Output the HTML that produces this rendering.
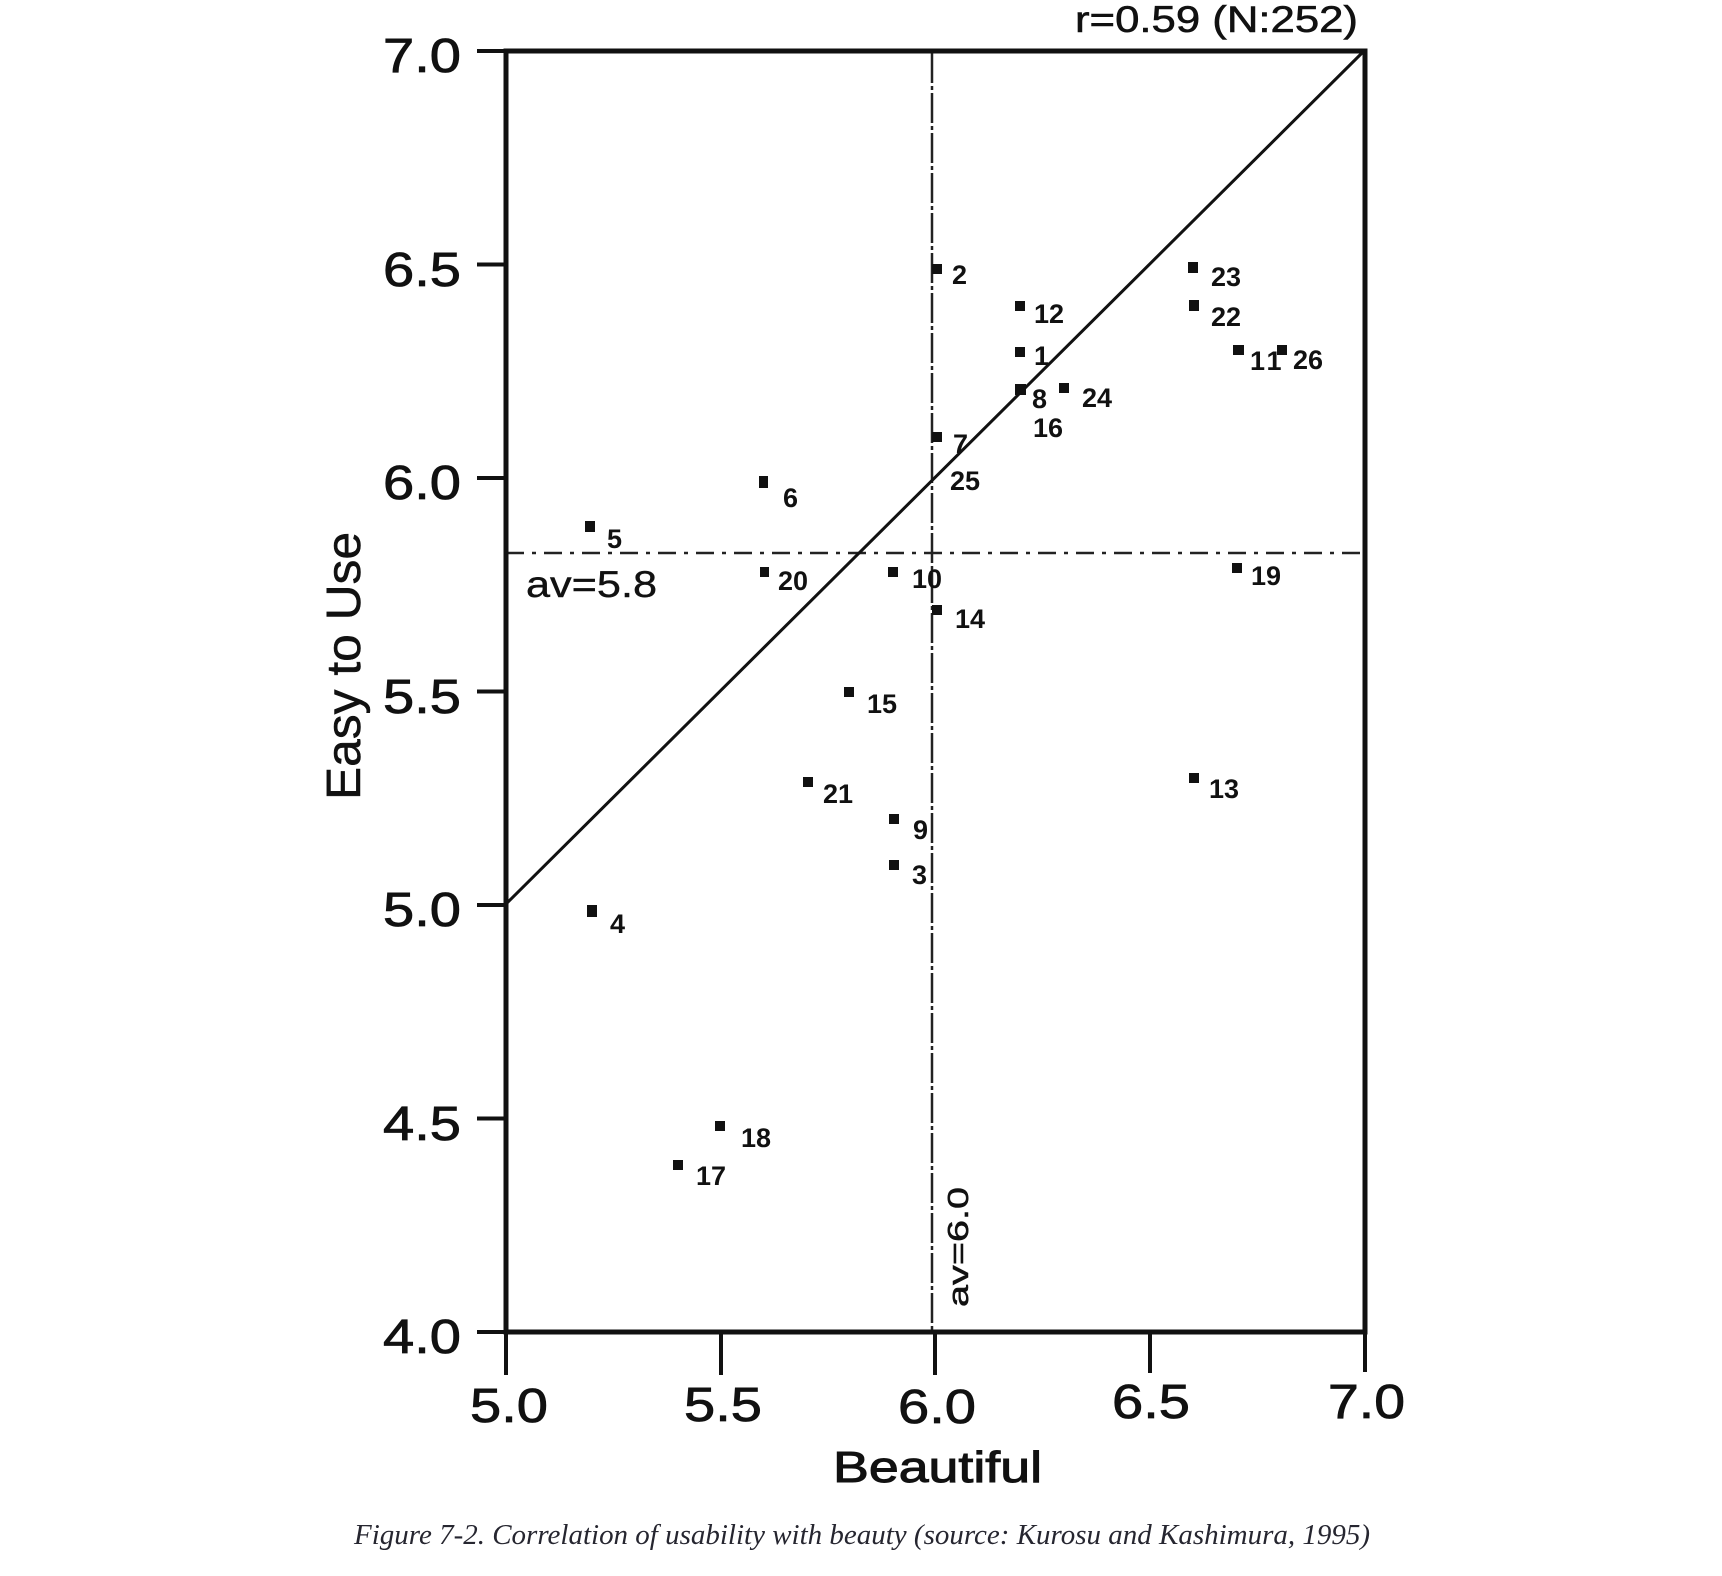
<!DOCTYPE html>
<html>
<head>
<meta charset="utf-8">
<style>
  html, body { margin:0; padding:0; background:#fff; }
  svg { display:block; }
  .tick { font-family:"Liberation Sans", sans-serif; font-size:48px; fill:#111; stroke:#111; stroke-width:0.8; }
  .lbl { font-family:"Liberation Sans", sans-serif; font-size:27px; font-weight:bold; fill:#111; }
</style>
</head>
<body>
<svg width="1722" height="1576" viewBox="0 0 1722 1576" xmlns="http://www.w3.org/2000/svg">
  <rect x="0" y="0" width="1722" height="1576" fill="#fff"/>

  <!-- average lines -->
  <line x1="932" y1="53" x2="932" y2="1332" stroke="#222" stroke-width="2.5" stroke-dasharray="30,3,4,3"/>
  <line x1="506" y1="553" x2="1365" y2="553" stroke="#222" stroke-width="2.5" stroke-dasharray="18,8,4,8"/>

  <!-- diagonal -->
  <line x1="506" y1="904" x2="1364" y2="51" stroke="#111" stroke-width="3"/>

  <!-- frame -->
  <rect x="506" y="51" width="859" height="1281" fill="none" stroke="#111" stroke-width="5"/>

  <!-- y ticks -->
  <g stroke="#111" stroke-width="4">
    <line x1="477" y1="51" x2="506" y2="51"/>
    <line x1="477" y1="264.5" x2="506" y2="264.5"/>
    <line x1="477" y1="478" x2="506" y2="478"/>
    <line x1="477" y1="691.5" x2="506" y2="691.5"/>
    <line x1="477" y1="905" x2="506" y2="905"/>
    <line x1="477" y1="1118.5" x2="506" y2="1118.5"/>
    <line x1="477" y1="1332" x2="506" y2="1332"/>
  </g>
  <!-- x ticks -->
  <g stroke="#111" stroke-width="4">
    <line x1="506" y1="1332" x2="506" y2="1375"/>
    <line x1="721" y1="1332" x2="721" y2="1375"/>
    <line x1="935" y1="1332" x2="935" y2="1375"/>
    <line x1="1150" y1="1332" x2="1150" y2="1373"/>
    <line x1="1365" y1="1332" x2="1365" y2="1372"/>
  </g>

  <!-- y tick labels -->
  <g class="tick" text-anchor="end">
    <text x="461" y="72" textLength="78" lengthAdjust="spacingAndGlyphs">7.0</text>
    <text x="461" y="286" textLength="78" lengthAdjust="spacingAndGlyphs">6.5</text>
    <text x="461" y="499" textLength="78" lengthAdjust="spacingAndGlyphs">6.0</text>
    <text x="461" y="713" textLength="78" lengthAdjust="spacingAndGlyphs">5.5</text>
    <text x="461" y="926" textLength="78" lengthAdjust="spacingAndGlyphs">5.0</text>
    <text x="461" y="1140" textLength="78" lengthAdjust="spacingAndGlyphs">4.5</text>
    <text x="461" y="1353" textLength="78" lengthAdjust="spacingAndGlyphs">4.0</text>
  </g>
  <!-- x tick labels -->
  <g class="tick">
    <text x="470" y="1422" textLength="78" lengthAdjust="spacingAndGlyphs">5.0</text>
    <text x="684" y="1421" textLength="78" lengthAdjust="spacingAndGlyphs">5.5</text>
    <text x="898" y="1423" textLength="78" lengthAdjust="spacingAndGlyphs">6.0</text>
    <text x="1112" y="1418" textLength="78" lengthAdjust="spacingAndGlyphs">6.5</text>
    <text x="1328" y="1418" textLength="77" lengthAdjust="spacingAndGlyphs">7.0</text>
  </g>

  <!-- axis titles -->
  <text x="833" y="1482" font-family="Liberation Sans, sans-serif" font-size="44" fill="#111" stroke="#111" stroke-width="1" textLength="209" lengthAdjust="spacingAndGlyphs">Beautiful</text>
  <text transform="translate(360,800) rotate(-90)" x="0" y="0" font-family="Liberation Sans, sans-serif" font-size="48" fill="#111" stroke="#111" stroke-width="0.5" textLength="268" lengthAdjust="spacingAndGlyphs">Easy to Use</text>

  <!-- annotations -->
  <text x="1075" y="32" font-family="Liberation Sans, sans-serif" font-size="37" fill="#111" stroke="#111" stroke-width="0.6" textLength="283" lengthAdjust="spacingAndGlyphs">r=0.59 (N:252)</text>
  <text x="526" y="597" font-family="Liberation Sans, sans-serif" font-size="37" fill="#111" stroke="#111" stroke-width="0.4" textLength="131" lengthAdjust="spacingAndGlyphs">av=5.8</text>
  <text transform="translate(968,1307) rotate(-90)" x="0" y="0" font-family="Liberation Sans, sans-serif" font-size="29" fill="#111" stroke="#111" stroke-width="0.5" textLength="120" lengthAdjust="spacingAndGlyphs">av=6.0</text>

  <!-- data points -->
  <g fill="#111">
    <rect x="932" y="264" width="10" height="10"/>
    <rect x="1015" y="301" width="10" height="10"/>
    <rect x="1015" y="347" width="10" height="10"/>
    <rect x="1015" y="384" width="11" height="11"/>
    <rect x="1059" y="383" width="10" height="10"/>
    <rect x="932" y="432" width="10" height="10"/>
    <rect x="1188" y="262" width="10" height="11"/>
    <rect x="1189" y="300" width="10" height="11"/>
    <rect x="1233" y="345" width="11" height="10"/>
    <rect x="1277" y="345" width="10" height="10"/>
    <rect x="585" y="521" width="10" height="11"/>
    <rect x="760" y="567" width="9" height="10"/>
    <rect x="888" y="567" width="10" height="10"/>
    <rect x="932" y="605" width="10" height="10"/>
    <rect x="759" y="476" width="9" height="12"/>
    <rect x="844" y="687" width="10" height="10"/>
    <rect x="803" y="777" width="10" height="10"/>
    <rect x="1189" y="773" width="10" height="10"/>
    <rect x="889" y="814" width="10" height="10"/>
    <rect x="889" y="860" width="10" height="10"/>
    <rect x="587" y="905" width="10" height="12"/>
    <rect x="715" y="1121" width="10" height="10"/>
    <rect x="673" y="1160" width="10" height="10"/>
    <rect x="1232" y="563" width="10" height="10"/>
  </g>

  <!-- data labels -->
  <g class="lbl">
    <text x="952" y="284">2</text>
    <text x="1034" y="323">12</text>
    <text x="1034" y="365">1</text>
    <text x="1032" y="408">8</text>
    <text x="1033" y="437">16</text>
    <text x="1082" y="407">24</text>
    <text x="953" y="453">7</text>
    <text x="950" y="490">25</text>
    <text x="1211" y="286">23</text>
    <text x="1211" y="326">22</text>
    <text x="1250" y="370" letter-spacing="3">11</text>
    <text x="1293" y="369">26</text>
    <text x="607" y="548">5</text>
    <text x="778" y="590">20</text>
    <text x="912" y="588">10</text>
    <text x="955" y="628">14</text>
    <text x="783" y="507">6</text>
    <text x="867" y="713">15</text>
    <text x="823" y="803">21</text>
    <text x="1209" y="798">13</text>
    <text x="913" y="839">9</text>
    <text x="912" y="884">3</text>
    <text x="610" y="933">4</text>
    <text x="741" y="1147">18</text>
    <text x="696" y="1185">17</text>
    <text x="1251" y="585">19</text>
  </g>

  <!-- caption -->
  <text x="354" y="1544" font-family="Liberation Serif, serif" font-style="italic" font-size="28" fill="#262630" textLength="1016" lengthAdjust="spacingAndGlyphs">Figure 7-2. Correlation of usability with beauty (source: Kurosu and Kashimura, 1995)</text>
</svg>
</body>
</html>
